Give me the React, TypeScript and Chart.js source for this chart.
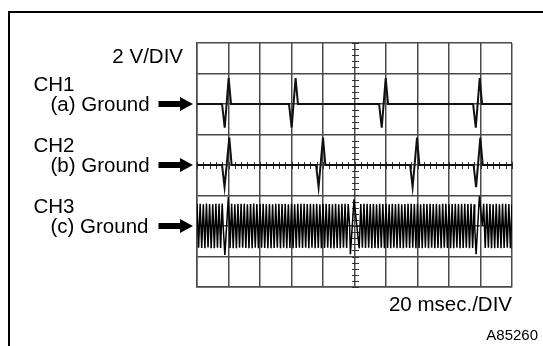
import React, { useEffect, useRef } from 'react';
import { Chart, registerables } from 'chart.js';

Chart.register(...registerables);

// ---- axes (time in ms, 20 ms/div; volts, 2 V/div) ----
const timeMin = 0;
const timeMax = 200;
const timeStep = 20;
const voltMin = -8;
const voltMax = 8;
const voltStep = 2;
const minorTimeStep = 4;
const minorVoltStep = 0.4;

// ---- labels ----
const voltLabel = '2 V/DIV';
const timeLabel = '20 msec./DIV';
const figureId = 'A85260';
const channelNames = ['CH1', 'CH2', 'CH3'];
const groundNames = ['(a) Ground', '(b) Ground', '(c) Ground'];
const channelGround = [4, 0, -4]; // ground reference of each channel (V on screen)

// ---- CH1 ----
const ch1Times = [0, 15.9, 17.6, 20.1, 21.6, 58.4, 60.1, 62.6, 64.1, 115.6, 117.3, 119.8, 121.3, 175.3, 177.0, 179.5, 181.0, 200];
const ch1Volts = [0, 0, -1.55, 1.7, 0, 0, -1.55, 1.7, 0, 0, -1.55, 1.7, 0, 0, -1.55, 1.7, 0, 0];

// ---- CH2 ----
const ch2Times = [0, 15.9, 17.5, 20.5, 22.0, 75.6, 77.2, 80.0, 81.5, 135.3, 136.9, 139.7, 141.2, 175.6, 177.2, 179.9, 181.4, 200];
const ch2Volts = [0, 0, -1.45, 1.8, 0, 0, -1.45, 1.8, 0, 0, -1.45, 1.8, 0, 0, -1.45, 1.8, 0, 0];

// ---- CH3: oscillation sampled every 1 ms (null = interrupted by pulse) ----
const ch3SampleStep = 1;
const ch3Samples: (number | null)[] = [
  1.45, -1.42, 1.46, -1.44, 1.43, -1.45, 1.47, -1.41, 1.44, -1.46,
  1.42, -1.45, 1.46, -1.43, 1.45, -1.44, 1.47, null, null, null,
  null, -1.44, 1.45, -1.46, 1.42, -1.45, 1.44, -1.43, 1.46, -1.42,
  1.45, -1.44, 1.43, -1.46, 1.44, -1.45, 1.47, -1.43, 1.44, -1.45,
  1.46, -1.42, 1.45, -1.44, 1.43, -1.46, 1.44, -1.45, 1.42, -1.44,
  1.45, -1.43, 1.46, -1.45, 1.44, -1.42, 1.45, -1.46, 1.43, -1.44,
  1.46, -1.45, 1.42, -1.44, 1.45, -1.43, 1.46, -1.44, 1.45, -1.42,
  1.44, -1.46, 1.45, -1.43, 1.44, -1.45, 1.46, -1.44, 1.43, -1.45,
  1.45, -1.44, 1.46, -1.42, 1.44, -1.45, 1.43, -1.46, 1.45, -1.44,
  1.42, -1.45, 1.46, -1.43, 1.45, -1.44, 1.44, null, null, null,
  null, null, null, -1.45, 1.44, -1.43, 1.46, -1.44, 1.45, -1.42,
  1.44, -1.46, 1.45, -1.44, 1.43, -1.45, 1.46, -1.43, 1.44, -1.45,
  1.45, -1.44, 1.42, -1.46, 1.45, -1.43, 1.44, -1.45, 1.46, -1.44,
  1.43, -1.45, 1.44, -1.42, 1.46, -1.44, 1.45, -1.43, 1.44, -1.46,
  1.45, -1.44, 1.43, -1.45, 1.46, -1.42, 1.44, -1.45, 1.45, -1.43,
  1.44, -1.46, 1.45, -1.44, 1.42, -1.45, 1.46, -1.43, 1.45, -1.44,
  1.43, -1.45, 1.44, -1.46, 1.45, -1.42, 1.44, -1.45, 1.46, -1.44,
  1.45, -1.43, 1.44, -1.45, 1.46, -1.44, 1.43, null, null, null,
  null, null, 1.45, -1.44, 1.46, -1.43, 1.44, -1.45, 1.42, -1.46,
  1.45, -1.44, 1.43, -1.45, 1.46, -1.44, 1.45, -1.43, 1.44, -1.45,
  1.44,
];
const ch3SpikeTimes = [16.6, 17.7, 19.9, 20.7, 96.9, 97.4, 99.7, 101.5, 176.3, 177.2, 179.3, 181.2];
const ch3SpikeVolts = [0, -1.9, 1.9, 0, 0, -1.85, 1.75, 0, 0, -1.85, 1.95, 0];

function toPoints(times: number[], volts: number[], ground: number) {
  return times.map((t, i) => ({ x: t, y: volts[i] + ground }));
}

function ch3Points(ground: number) {
  const pts: { x: number; y: number }[] = [];
  ch3Samples.forEach((v, i) => {
    if (v !== null) pts.push({ x: i * ch3SampleStep, y: v + ground });
  });
  ch3SpikeTimes.forEach((t, i) => pts.push({ x: t, y: ch3SpikeVolts[i] + ground }));
  pts.sort((a, b) => a.x - b.x);
  return pts;
}

const FONT = '"Liberation Sans", Arial, Helvetica, sans-serif';

const scopePlugin = {
  id: 'scopeDecor',
  beforeDatasetsDraw(chart: any) {
    const { ctx, scales } = chart;
    const xs = scales.x;
    const ys = scales.y;
    const cx = Math.round(xs.getPixelForValue((timeMin + timeMax) / 2)) + 0.5;
    const cy = Math.round(ys.getPixelForValue(0)) + 0.5;
    ctx.save();
    ctx.strokeStyle = '#333';
    ctx.lineWidth = 1;
    for (let v = voltMin; v <= voltMax + 1e-6; v += minorVoltStep) {
      const py = Math.round(ys.getPixelForValue(v)) + 0.5;
      ctx.beginPath();
      ctx.moveTo(cx - 3.5, py);
      ctx.lineTo(cx + 3.5, py);
      ctx.stroke();
    }
    for (let t = timeMin; t <= timeMax + 1e-6; t += minorTimeStep) {
      const px = Math.round(xs.getPixelForValue(t)) + 0.5;
      ctx.beginPath();
      ctx.moveTo(px, cy - 3.5);
      ctx.lineTo(px, cy + 3.5);
      ctx.stroke();
    }
    ctx.restore();
  },
  afterDraw(chart: any) {
    const { ctx, scales, chartArea } = chart;
    const ys = scales.y;
    ctx.save();
    ctx.fillStyle = '#000';
    ctx.font = `20.5px ${FONT}`;
    ctx.textBaseline = 'alphabetic';

    ctx.textAlign = 'right';
    ctx.fillText(voltLabel, 183, 63);
    ctx.fillText(timeLabel, chartArea.right, 311);

    ctx.textAlign = 'left';
    channelGround.forEach((g, i) => {
      const py = ys.getPixelForValue(g);
      ctx.fillText(channelNames[i], 33.5, py - 13.5);
      ctx.fillText(groundNames[i], 50.5, py + 7.3);
      // arrow
      ctx.beginPath();
      ctx.moveTo(158.5, py - 3);
      ctx.lineTo(180, py - 3);
      ctx.lineTo(180, py - 7);
      ctx.lineTo(193, py);
      ctx.lineTo(180, py + 7);
      ctx.lineTo(180, py + 3);
      ctx.lineTo(158.5, py + 3);
      ctx.closePath();
      ctx.fill();
    });

    ctx.textAlign = 'right';
    ctx.font = `15px ${FONT}`;
    ctx.fillText(figureId, 538, 340);

    // outer frame
    ctx.strokeStyle = '#000';
    ctx.lineWidth = 2;
    ctx.strokeRect(9, 12, 700, 500);
    ctx.restore();
  },
};

export default function App() {
  const canvasRef = useRef<HTMLCanvasElement | null>(null);

  useEffect(() => {
    if (!canvasRef.current) return;
    const lineStyle = { pointRadius: 0, tension: 0, fill: false };
    const chart = new Chart(canvasRef.current, {
      type: 'line',
      data: {
        datasets: [
          { label: channelNames[0], data: toPoints(ch1Times, ch1Volts, channelGround[0]), borderWidth: 2, borderColor: '#111', ...lineStyle },
          { label: channelNames[1], data: toPoints(ch2Times, ch2Volts, channelGround[1]), borderWidth: 2, borderColor: '#111', ...lineStyle },
          { label: channelNames[2], data: ch3Points(channelGround[2]), borderWidth: 1.5, borderColor: '#000', ...lineStyle },
        ],
      },
      options: {
        animation: false,
        responsive: false,
        devicePixelRatio: 1,
        layout: { padding: { left: 197, right: 31, top: 43, bottom: 59 } },
        plugins: { legend: { display: false }, tooltip: { enabled: false }, title: { display: false } },
        events: [],
        scales: {
          x: {
            type: 'linear',
            min: timeMin,
            max: timeMax,
            ticks: { display: false, stepSize: timeStep },
            grid: { color: '#4a4a4a', lineWidth: 1.5, drawTicks: false },
            border: { display: true, color: '#4a4a4a', width: 1.5 },
          },
          y: {
            type: 'linear',
            min: voltMin,
            max: voltMax,
            ticks: { display: false, stepSize: voltStep },
            grid: { color: '#4a4a4a', lineWidth: 1.5, drawTicks: false },
            border: { display: true, color: '#4a4a4a', width: 1.5 },
          },
        },
      },
      plugins: [scopePlugin],
    } as any);
    return () => chart.destroy();
  }, []);

  return (
    <div style={{ position: 'absolute', left: 0, top: 0, width: 543, height: 346, background: '#fff' }}>
      <canvas ref={canvasRef} width={543} height={346} style={{ display: 'block' }} />
    </div>
  );
}
